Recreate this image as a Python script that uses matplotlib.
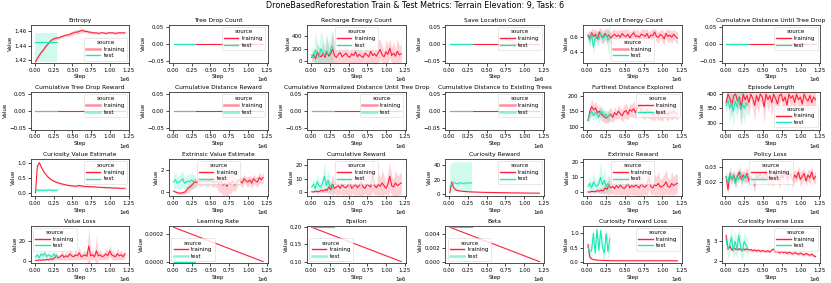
import numpy as np
import matplotlib
matplotlib.use('Agg')
import matplotlib.pyplot as plt

TITLE = 'DroneBasedReforestation Train & Test Metrics: Terrain Elevation: 9, Task: 6'
TRAIN_COLOR = '#ff1f3a'
TEST_COLOR = '#1de6b2'

# checkpoint steps
TRAIN_STEPS = np.linspace(0.01e6, 1.2e6, 48)
TEST_STEPS = np.linspace(0.01e6, 0.3e6, 13)
TRAIN_ENDS = [0.01e6, 1.2e6]
TEST_ENDS = [0.01e6, 0.3e6]
X_TICKS = [0, 0.25e6, 0.5e6, 0.75e6, 1.0e6, 1.25e6]

ZERO_TRAIN = [0.0, 0.0]
ZERO_TEST = [0.0, 0.0]

entropy_train = [1.418, 1.423, 1.427, 1.431, 1.434, 1.438, 1.441, 1.444, 1.447, 1.449,
                 1.450, 1.451, 1.451, 1.452, 1.453, 1.454, 1.455, 1.455, 1.456, 1.457,
                 1.458, 1.459, 1.459, 1.460, 1.461, 1.461, 1.460, 1.460, 1.459, 1.459,
                 1.458, 1.458, 1.458, 1.457, 1.458, 1.458, 1.458, 1.457, 1.458, 1.458,
                 1.458, 1.458, 1.457, 1.458, 1.458, 1.458, 1.458, 1.458]
entropy_train_band = [0.001, 0.002, 0.002, 0.002, 0.002, 0.002, 0.002, 0.002, 0.002, 0.002,
                      0.002, 0.002, 0.002, 0.002, 0.002, 0.002, 0.002, 0.002, 0.003, 0.003,
                      0.003, 0.003, 0.003, 0.003, 0.003, 0.003, 0.002, 0.002, 0.002, 0.002,
                      0.0015, 0.0015, 0.0015, 0.0015, 0.0012, 0.0012, 0.0012, 0.0012, 0.0012, 0.0012,
                      0.0012, 0.0012, 0.0012, 0.0012, 0.0012, 0.0012, 0.0012, 0.0012]
entropy_test = [1.445, 1.445]
entropy_test_band = (0.027, 0.013)

recharge_train = [60, 110, 40, 140, 90, 70, 130, 60, 150, 80, 120, 200, 90, 60, 110, 140,
                  70, 100, 130, 80, 60, 120, 90, 150, 70, 110, 80, 60, 130, 100, 70, 160,
                  90, 120, 80, 140, 190, 100, 70, 150, 110, 210, 90, 130, 80, 160, 100, 120]
recharge_train_band = [60, 100, 80, 150, 120, 90, 200, 80, 250, 120, 150, 300, 130, 100, 140, 200,
                       90, 150, 180, 100, 90, 170, 120, 200, 100, 160, 110, 80, 180, 150, 100, 220,
                       130, 160, 110, 200, 160, 150, 100, 200, 160, 150, 130, 180, 110, 200, 150, 150]
recharge_test = [100, 50, 180, 120, 60, 200, 150, 90, 170, 110, 130, 250, 180]
recharge_test_band = [150, 100, 300, 200, 150, 300, 250, 150, 300, 200, 200, 250, 200]

energy_out_train = [0.62, 0.58, 0.65, 0.60, 0.63, 0.57, 0.66, 0.61, 0.59, 0.64, 0.60, 0.62,
                    0.58, 0.61, 0.63, 0.60, 0.62, 0.59, 0.64, 0.61, 0.60, 0.63, 0.58, 0.62,
                    0.65, 0.60, 0.61, 0.59, 0.63, 0.62, 0.60, 0.64, 0.58, 0.62, 0.61, 0.66,
                    0.60, 0.59, 0.63, 0.61, 0.57, 0.64, 0.60, 0.62, 0.59, 0.63, 0.60, 0.58]
energy_out_train_band = [0.06, 0.08, 0.06, 0.09, 0.07, 0.08, 0.06, 0.09, 0.08, 0.07, 0.1, 0.06,
                         0.08, 0.09, 0.06, 0.08, 0.07, 0.09, 0.06, 0.08, 0.09, 0.07, 0.08, 0.06,
                         0.05, 0.08, 0.09, 0.07, 0.06, 0.08, 0.09, 0.06, 0.08, 0.07, 0.09, 0.05,
                         0.08, 0.07, 0.06, 0.09, 0.08, 0.06, 0.09, 0.07, 0.08, 0.06, 0.07, 0.08]
energy_out_test = [0.60, 0.55, 0.63, 0.46, 0.58, 0.62, 0.56, 0.64, 0.57, 0.60, 0.62, 0.55, 0.60]
energy_out_test_band = [0.06, 0.1, 0.05, 0.12, 0.08, 0.06, 0.1, 0.05, 0.08, 0.07, 0.06, 0.15, 0.3]

furthest_train = [120, 150, 165, 155, 160, 145, 150, 140, 135, 130, 128, 135, 140, 130, 145, 138,
                  150, 142, 135, 148, 152, 140, 155, 150, 158, 145, 160, 165, 150, 148, 140, 155,
                  145, 150, 138, 142, 150, 135, 145, 140, 150, 145, 138, 148, 142, 150, 145, 140]
furthest_train_band = [8, 20, 25, 18, 22, 20, 15, 22, 18, 20, 15, 20, 22, 18, 20, 15,
                       22, 18, 20, 22, 25, 18, 20, 22, 25, 20, 18, 25, 22, 20, 18, 22,
                       20, 25, 18, 20, 22, 18, 20, 25, 18, 20, 22, 18, 20, 22, 18, 20]
furthest_test = [120, 140, 150, 135, 145, 140, 130, 150, 145, 135, 140, 130, 140]
furthest_test_band = [10, 15, 18, 15, 20, 15, 18, 20, 15, 18, 15, 20, 15]

episode_train = [370, 400, 385, 360, 395, 400, 375, 390, 350, 400, 380, 395, 370, 400, 385, 360,
                 395, 375, 400, 390, 355, 400, 380, 395, 370, 400, 385, 365, 395, 400, 375, 390,
                 360, 400, 385, 395, 370, 400, 380, 390, 365, 400, 385, 375, 395, 370, 390, 380]
episode_train_band = [30, 20, 35, 40, 25, 20, 45, 30, 60, 25, 40, 30, 50, 20, 35, 55,
                      30, 45, 25, 30, 60, 20, 40, 30, 50, 25, 35, 70, 30, 20, 45, 30,
                      55, 20, 35, 30, 50, 20, 40, 35, 55, 25, 35, 45, 30, 50, 35, 40]
episode_test = [360, 380, 350, 370, 340, 375, 355, 385, 345, 365, 350, 370, 360]
episode_test_band = [30, 25, 50, 35, 55, 30, 45, 25, 60, 40, 50, 35, 40]

cur_value_train = [0.02, 0.90, 1.02, 0.88, 0.76, 0.66, 0.58, 0.52, 0.47, 0.43, 0.40, 0.37,
                   0.35, 0.33, 0.31, 0.30, 0.28, 0.27, 0.26, 0.25, 0.25, 0.24, 0.25, 0.26,
                   0.25, 0.24, 0.23, 0.23, 0.23, 0.22, 0.22, 0.22, 0.21, 0.21, 0.20, 0.20,
                   0.20, 0.19, 0.19, 0.19, 0.18, 0.18, 0.18, 0.18, 0.17, 0.17, 0.17, 0.17]
cur_value_train_band = [0.01, 0.05, 0.04, 0.03, 0.03, 0.03, 0.03, 0.03, 0.03, 0.03, 0.03, 0.03,
                        0.03, 0.03, 0.03, 0.03, 0.03, 0.03, 0.03, 0.03, 0.03, 0.04, 0.04, 0.04,
                        0.04, 0.03, 0.03, 0.03, 0.03, 0.03, 0.02, 0.02, 0.02, 0.02, 0.02, 0.02,
                        0.02, 0.02, 0.02, 0.02, 0.02, 0.02, 0.02, 0.02, 0.02, 0.02, 0.02, 0.02]
cur_value_test = [0.10, 0.11, 0.10, 0.12, 0.10, 0.11, 0.10, 0.12, 0.11, 0.10, 0.11, 0.10, 0.11]
cur_value_test_band = 0.05

ext_value_train = [0.1, 0.0, -0.05, -0.1, -0.1, -0.05, 0.0, 0.2, 0.4, 0.5, 0.7, 0.9, 0.85, 1.0,
                   0.9, 1.05, 0.95, 1.0, 0.9, 1.1, 0.95, 0.85, 1.0, 0.9, 0.7, 1.0, 0.6, 0.8,
                   0.5, 0.9, 0.7, 1.0, 0.6, 0.8, 1.1, 1.0, 0.8, 1.2, 1.0, 0.9, 1.1, 0.8, 1.2,
                   1.0, 0.9, 1.3, 1.1, 1.3]
ext_value_train_band = [0.1, 0.1, 0.1, 0.1, 0.1, 0.15, 0.2, 0.3, 0.4, 0.3, 0.4, 0.4, 0.4, 0.4,
                        0.4, 0.4, 0.4, 0.4, 0.5, 0.4, 0.5, 0.4, 0.5, 0.6, 0.8, 1.0, 1.2, 1.0,
                        1.2, 1.0, 0.9, 0.8, 0.6, 0.5, 0.4, 0.4, 0.5, 0.4, 0.4, 0.5, 0.4, 0.5,
                        0.4, 0.4, 0.5, 0.5, 0.4, 0.5]
ext_value_test = [0.9, 1.1, 0.8, 0.9, 1.0, 1.2, 0.8, 0.9, 1.0, 0.9, 1.1, 0.9, 1.0]
ext_value_test_band = [0.6, 0.8, 0.5, 0.6, 0.7, 0.8, 0.5, 0.6, 0.7, 0.6, 0.8, 0.6, 0.6]

cum_reward_train = [0.5, 0.3, 1.0, 0.5, 0.8, 1.5, 1.0, 2.0, 1.5, 4.0, 2.0, 6.0, 3.0, 4.0, 5.0,
                    3.0, 6.0, 4.0, 3.5, 5.0, 7.0, 3.0, 4.5, 6.0, 3.5, 5.0, 8.0, 4.0, 3.0, 6.0,
                    5.0, 4.0, 13.0, 5.0, 3.5, 6.0, 4.5, 7.0, 5.0, 3.0, 6.0, 12.0, 5.0, 4.0,
                    7.0, 5.0, 6.0, 7.0]
cum_reward_train_band = [0.5, 0.5, 1.0, 1.0, 1.0, 1.5, 1.5, 2.0, 2.0, 5.0, 3.0, 8.0, 4.0, 6.0,
                         7.0, 4.0, 8.0, 6.0, 5.0, 7.0, 10.0, 4.0, 6.0, 9.0, 5.0, 8.0, 12.0, 6.0,
                         4.0, 9.0, 7.0, 6.0, 12.0, 7.0, 5.0, 9.0, 6.0, 10.0, 7.0, 4.0, 9.0, 10.0,
                         7.0, 6.0, 10.0, 7.0, 8.0, 8.0]
cum_reward_test = [4, 6, 3, 8, 5, 4, 7, 12, 5, 9, 4, 6, 3]
cum_reward_test_band = [3, 5, 3, 6, 4, 4, 6, 11, 5, 8, 4, 5, 3]

cur_reward_train = [2, 17, 9, 6, 5, 4.5, 4, 3.7, 3.5, 3.3, 3.1, 3.0, 2.9, 2.8, 2.7, 2.6, 2.5,
                    2.4, 2.3, 2.3, 2.2, 2.2, 2.1, 2.1, 2.0, 2.0, 1.9, 1.9, 1.8, 1.8, 1.8, 1.7,
                    1.7, 1.6, 1.6, 1.6, 1.5, 1.5, 1.5, 1.4, 1.4, 1.4, 1.3, 1.3, 1.3, 1.2, 1.2, 1.2]
cur_reward_train_band = [1.5, 3.0, 1.5, 1.0, 0.8, 0.6, 0.5, 0.5, 0.5, 0.5, 0.4, 0.4, 0.4, 0.4,
                         0.4, 0.4, 0.4, 0.4, 0.4, 0.4, 0.4, 0.4, 0.4, 0.4, 0.4, 0.4, 0.4, 0.4,
                         0.4, 0.4, 0.4, 0.4, 0.4, 0.4, 0.4, 0.4, 0.4, 0.4, 0.4, 0.4, 0.4, 0.4,
                         0.4, 0.4, 0.4, 0.4, 0.4, 0.4]
cur_reward_test = [10, 14, 15, 16, 14, 15, 16, 15, 14, 16, 15, 16, 15]
cur_reward_test_band = (11, 30)

ext_reward_train = [0.3, 0.2, 0.8, 0.5, 0.6, 1.2, 0.8, 1.5, 1.0, 3.0, 2.0, 5.0, 3.0, 4.0, 2.5,
                    4.5, 3.0, 5.0, 3.5, 2.5, 4.0, 6.0, 3.0, 4.5, 3.5, 5.0, 4.0, 3.0, 6.0, 4.0,
                    3.5, 5.0, 10.0, 4.0, 3.0, 5.0, 4.5, 6.0, 3.5, 4.0, 5.0, 7.0, 4.0, 3.5, 6.0,
                    4.5, 5.5, 6.0]
ext_reward_train_band = [0.5, 0.5, 1.0, 1.0, 1.0, 1.5, 1.5, 2.0, 2.0, 4.0, 3.0, 7.0, 4.0, 5.0,
                         4.0, 6.0, 4.0, 7.0, 5.0, 4.0, 6.0, 9.0, 4.0, 6.0, 5.0, 7.0, 10.0, 5.0,
                         8.0, 6.0, 5.0, 7.0, 8.0, 6.0, 4.0, 7.0, 6.0, 8.0, 5.0, 6.0, 7.0, 8.0,
                         6.0, 5.0, 8.0, 6.0, 7.0, 6.0]
ext_reward_test = [4, 6, 3, 7, 5, 4, 6, 10, 5, 8, 4, 6, 3]
ext_reward_test_band = [3, 5, 3, 6, 4, 4, 6, 11, 5, 8, 4, 5, 3]

policy_train = [0.024, 0.015, 0.026, 0.022, 0.025, 0.021, 0.024, 0.027, 0.022, 0.025, 0.023,
                0.026, 0.021, 0.024, 0.022, 0.018, 0.025, 0.023, 0.026, 0.022, 0.024, 0.027,
                0.021, 0.025, 0.023, 0.022, 0.026, 0.024, 0.021, 0.025, 0.023, 0.028, 0.022,
                0.024, 0.026, 0.021, 0.025, 0.023, 0.027, 0.022, 0.024, 0.026, 0.021, 0.025,
                0.023, 0.027, 0.022, 0.024]
policy_train_band = [0.004, 0.003, 0.005, 0.004, 0.003, 0.005, 0.004, 0.004, 0.005, 0.003,
                     0.004, 0.005, 0.004, 0.003, 0.004, 0.005, 0.004, 0.003, 0.005, 0.004,
                     0.004, 0.005, 0.003, 0.004, 0.005, 0.004, 0.004, 0.003, 0.005, 0.004,
                     0.004, 0.004, 0.005, 0.003, 0.004, 0.005, 0.004, 0.003, 0.004, 0.005,
                     0.004, 0.004, 0.003, 0.004, 0.005, 0.004, 0.003, 0.004]
policy_test = [0.024, 0.020, 0.026, 0.022, 0.025, 0.019, 0.024, 0.022, 0.026, 0.021, 0.024,
               0.023, 0.025]
policy_test_band = 0.003

value_loss_train = [0.5, 0.3, 0.8, 0.5, 1.0, 0.8, 1.5, 1.0, 2.0, 1.5, 3.0, 5.0, 3.0, 4.0, 6.0,
                    3.5, 5.0, 4.0, 7.0, 5.0, 4.0, 6.0, 5.0, 8.0, 4.0, 5.0, 6.0, 4.5, 15.0, 5.0,
                    6.0, 4.0, 10.0, 5.0, 6.0, 4.0, 5.0, 7.0, 5.0, 10.0, 6.0, 5.0, 4.0, 7.0, 5.0,
                    6.0, 4.0, 7.0]
value_loss_train_band = [0.5, 0.5, 0.8, 0.5, 1.0, 1.0, 1.5, 1.0, 2.0, 1.5, 2.5, 4.0, 2.5, 3.0,
                         5.0, 3.0, 4.0, 3.0, 6.0, 4.0, 3.0, 5.0, 4.0, 7.0, 3.0, 4.0, 5.0, 4.0,
                         20.0, 4.0, 5.0, 3.0, 15.0, 4.0, 5.0, 3.0, 4.0, 6.0, 4.0, 6.0, 5.0, 4.0,
                         3.0, 6.0, 4.0, 5.0, 3.0, 5.0]
value_loss_test = [4, 6, 3, 7, 5, 8, 4, 6, 5, 4, 7, 5, 4]
value_loss_test_band = [2, 3, 2, 3, 3, 3, 2, 3, 3, 2, 3, 3, 2]

lr_train = [0.00025, 0.0]
lr_test = [0.0, 0.0]
epsilon_train = [0.2, 0.1]
epsilon_test = [0.2, 0.2]
beta_train = [0.005, 0.0]
beta_test = [0.005, 0.005]

fwd_loss_train = [0.6, 0.15, 0.1, 0.07, 0.06, 0.05, 0.05, 0.045, 0.04, 0.04, 0.04, 0.035,
                  0.035, 0.035, 0.03, 0.03, 0.03, 0.03, 0.03, 0.03, 0.03, 0.03, 0.03, 0.03,
                  0.03, 0.03, 0.03, 0.03, 0.03, 0.03, 0.03, 0.03, 0.03, 0.03, 0.03, 0.03,
                  0.03, 0.03, 0.03, 0.03, 0.03, 0.03, 0.03, 0.03, 0.03, 0.03, 0.03, 0.03]
fwd_loss_train_band = [0.1, 0.05, 0.02, 0.01, 0.01, 0.01, 0.01, 0.01, 0.01, 0.01, 0.01, 0.01,
                       0.01, 0.01, 0.01, 0.01, 0.01, 0.01, 0.01, 0.01, 0.01, 0.01, 0.01, 0.01,
                       0.01, 0.01, 0.01, 0.01, 0.01, 0.01, 0.01, 0.01, 0.01, 0.01, 0.01, 0.01,
                       0.01, 0.01, 0.01, 0.01, 0.01, 0.01, 0.01, 0.01, 0.01, 0.01, 0.01, 0.01]
fwd_loss_test = [0.5, 0.35, 0.4, 1.0, 0.3, 1.15, 0.4, 1.1, 0.5, 0.3, 1.0, 0.35, 0.8]
fwd_loss_test_band = [0.3, 0.25, 0.3, 0.2, 0.2, 0.1, 0.3, 0.1, 0.4, 0.2, 0.2, 0.3, 0.4]

inv_loss_train = [3.3, 2.6, 2.75, 2.55, 2.65, 2.6, 2.58, 2.62, 2.55, 2.6, 2.57, 2.62, 2.55, 2.58,
                  2.52, 2.56, 2.5, 2.55, 2.48, 2.53, 2.5, 2.47, 2.52, 2.45, 2.55, 2.6, 2.45, 2.5,
                  2.4, 2.48, 2.42, 2.46, 2.38, 2.44, 2.4, 2.35, 2.42, 2.38, 2.33, 2.4, 2.35, 2.3,
                  2.38, 2.32, 2.28, 2.35, 2.25, 2.22]
inv_loss_train_band = 0.08
inv_loss_test = [3.1, 2.6, 2.8, 3.2, 2.5, 3.0, 2.6, 3.3, 2.7, 2.5, 3.0, 2.8, 2.6]
inv_loss_test_band = [0.4, 0.5, 0.5, 0.5, 0.4, 0.6, 0.5, 0.4, 0.5, 0.5, 0.5, 0.4, 0.5]

# title, train steps, train, train band, test steps, test, test band
METRICS = [
    ('Entropy', TRAIN_STEPS, entropy_train, entropy_train_band, TEST_ENDS, entropy_test, entropy_test_band),
    ('Tree Drop Count', TRAIN_ENDS, ZERO_TRAIN, 0, TEST_ENDS, ZERO_TEST, 0),
    ('Recharge Energy Count', TRAIN_STEPS, recharge_train, recharge_train_band, TEST_STEPS, recharge_test, recharge_test_band),
    ('Save Location Count', TRAIN_ENDS, ZERO_TRAIN, 0, TEST_ENDS, ZERO_TEST, 0),
    ('Out of Energy Count', TRAIN_STEPS, energy_out_train, energy_out_train_band, TEST_STEPS, energy_out_test, energy_out_test_band),
    ('Cumulative Distance Until Tree Drop', TRAIN_ENDS, ZERO_TRAIN, 0, TEST_ENDS, ZERO_TEST, 0),
    ('Cumulative Tree Drop Reward', TRAIN_ENDS, ZERO_TRAIN, 0, TEST_ENDS, ZERO_TEST, 0),
    ('Cumulative Distance Reward', TRAIN_ENDS, ZERO_TRAIN, 0, TEST_ENDS, ZERO_TEST, 0),
    ('Cumulative Normalized Distance Until Tree Drop', TRAIN_ENDS, ZERO_TRAIN, 0, TEST_ENDS, ZERO_TEST, 0),
    ('Cumulative Distance to Existing Trees', TRAIN_ENDS, ZERO_TRAIN, 0, TEST_ENDS, ZERO_TEST, 0),
    ('Furthest Distance Explored', TRAIN_STEPS, furthest_train, furthest_train_band, TEST_STEPS, furthest_test, furthest_test_band),
    ('Episode Length', TRAIN_STEPS, episode_train, episode_train_band, TEST_STEPS, episode_test, episode_test_band),
    ('Curiosity Value Estimate', TRAIN_STEPS, cur_value_train, cur_value_train_band, TEST_STEPS, cur_value_test, cur_value_test_band),
    ('Extrinsic Value Estimate', TRAIN_STEPS, ext_value_train, ext_value_train_band, TEST_STEPS, ext_value_test, ext_value_test_band),
    ('Cumulative Reward', TRAIN_STEPS, cum_reward_train, cum_reward_train_band, TEST_STEPS, cum_reward_test, cum_reward_test_band),
    ('Curiosity Reward', TRAIN_STEPS, cur_reward_train, cur_reward_train_band, TEST_STEPS, cur_reward_test, cur_reward_test_band),
    ('Extrinsic Reward', TRAIN_STEPS, ext_reward_train, ext_reward_train_band, TEST_STEPS, ext_reward_test, ext_reward_test_band),
    ('Policy Loss', TRAIN_STEPS, policy_train, policy_train_band, TEST_STEPS, policy_test, policy_test_band),
    ('Value Loss', TRAIN_STEPS, value_loss_train, value_loss_train_band, TEST_STEPS, value_loss_test, value_loss_test_band),
    ('Learning Rate', TRAIN_ENDS, lr_train, 0, TEST_ENDS, lr_test, 0),
    ('Epsilon', TRAIN_ENDS, epsilon_train, 0, TEST_ENDS, epsilon_test, 0),
    ('Beta', TRAIN_ENDS, beta_train, 0, TEST_ENDS, beta_test, 0),
    ('Curiosity Forward Loss', TRAIN_STEPS, fwd_loss_train, fwd_loss_train_band, TEST_STEPS, fwd_loss_test, fwd_loss_test_band),
    ('Curiosity Inverse Loss', TRAIN_STEPS, inv_loss_train, inv_loss_train_band, TEST_STEPS, inv_loss_test, inv_loss_test_band),
]

LEGEND_LOC = ['lower right', 'upper right', 'upper center', 'upper right', 'lower center', 'upper right',
              'upper right', 'upper right', 'upper right', 'upper right', 'upper right', 'lower right',
              'upper right', 'upper center', 'upper center', 'upper right', 'upper center', 'upper center',
              'upper left', 'lower left', 'lower left', 'lower left', 'upper right', 'upper right']

# legend handles that are drawn faded (training, test)
LEGEND_FADED = {
    'Entropy': (True, False),
    'Out of Energy Count': (True, False),
    'Cumulative Tree Drop Reward': (True, True),
    'Cumulative Distance Reward': (True, True),
    'Cumulative Normalized Distance Until Tree Drop': (True, True),
    'Cumulative Distance to Existing Trees': (True, True),
    'Learning Rate': (False, True),
    'Epsilon': (False, True),
    'Beta': (False, True),
}

ZERO_TICKS = [-0.05, 0.0, 0.05]
Y_TICKS = {
    'Entropy': [1.42, 1.44, 1.46],
    'Recharge Energy Count': [0, 200, 400],
    'Out of Energy Count': [0.4, 0.6],
    'Furthest Distance Explored': [100, 150, 200],
    'Episode Length': [300, 350, 400],
    'Curiosity Value Estimate': [0.0, 0.5, 1.0],
    'Extrinsic Value Estimate': [0, 2],
    'Cumulative Reward': [0, 10, 20],
    'Curiosity Reward': [0, 20, 40],
    'Extrinsic Reward': [0, 10, 20],
    'Policy Loss': [0.02, 0.03],
    'Value Loss': [0, 20],
    'Learning Rate': [0.0, 0.0002],
    'Epsilon': [0.10, 0.15, 0.20],
    'Beta': [0.0, 0.002, 0.004],
    'Curiosity Forward Loss': [0.0, 0.5, 1.0],
    'Curiosity Inverse Loss': [2, 3],
}

YLIMS = {
    'Entropy': (1.4168, 1.4688),
    'Recharge Energy Count': (-26, 585),
    'Out of Energy Count': (0.26, 0.75),
    'Furthest Distance Explored': (90, 213),
    'Episode Length': (275, 408),
    'Curiosity Value Estimate': (-0.1, 1.15),
    'Extrinsic Value Estimate': (-0.4, 3.0),
    'Cumulative Reward': (-3, 25),
    'Curiosity Reward': (-3.4, 49.4),
    'Extrinsic Reward': (-2.7, 22.5),
    'Policy Loss': (0.0107, 0.0358),
    'Value Loss': (-2.6, 35.7),
    'Curiosity Forward Loss': (-0.06, 1.28),
    'Curiosity Inverse Loss': (1.87, 3.81),
}

FS = 4.0


def band_edges(vals, spread):
    vals = np.asarray(vals, dtype=float)
    if isinstance(spread, tuple):
        return vals - spread[0], vals + spread[1]
    s = np.broadcast_to(np.asarray(spread, dtype=float), vals.shape)
    return vals - s, vals + s


def main():
    fig, axes = plt.subplots(4, 6, figsize=(8.31, 2.83), dpi=100)
    fig.subplots_adjust(left=0.0373, right=0.9868, top=0.9117, bottom=0.0696,
                        wspace=0.403, hspace=0.77)
    fig.suptitle(TITLE, fontsize=5.8, y=0.995)

    for i, (title, tr_x, tr_y, tr_b, te_x, te_y, te_b) in enumerate(METRICS):
        ax = axes.flat[i]
        lo, hi = band_edges(tr_y, tr_b)
        if np.any(hi > lo):
            ax.fill_between(tr_x, lo, hi, color=TRAIN_COLOR, alpha=0.2, linewidth=0)
        ax.plot(tr_x, tr_y, color=TRAIN_COLOR, lw=0.8, label='training')
        lo, hi = band_edges(te_y, te_b)
        if np.any(hi > lo):
            ax.fill_between(te_x, lo, hi, color=TEST_COLOR, alpha=0.2, linewidth=0)
        ax.plot(te_x, te_y, color=TEST_COLOR, lw=0.8, label='test')

        ax.set_xlim(-0.0495e6, 1.2595e6)
        ax.set_xticks(X_TICKS)
        ax.set_yticks(Y_TICKS.get(title, ZERO_TICKS))
        if title in YLIMS:
            ax.set_ylim(*YLIMS[title])
        ax.set_title(title, fontsize=4.3, pad=2)
        ax.set_xlabel('Step', fontsize=FS, labelpad=1)
        ax.set_ylabel('Value', fontsize=FS, labelpad=1)
        ax.tick_params(labelsize=FS, length=2, width=0.5, pad=1.5)
        ax.xaxis.get_offset_text().set_fontsize(FS)
        ax.yaxis.get_offset_text().set_fontsize(FS)
        for sp in ax.spines.values():
            sp.set_linewidth(0.6)
            sp.set_color('#333333')

        leg = ax.legend(loc=LEGEND_LOC[i], title='source', fontsize=FS, title_fontsize=FS,
                        handlelength=2.6, borderpad=0.4, labelspacing=0.3,
                        handletextpad=0.6, borderaxespad=0.4, framealpha=0.8)
        faded = LEGEND_FADED.get(title, (False, False))
        for h, f in zip(leg.get_lines(), faded):
            if f:
                h.set_alpha(0.5)
                h.set_linewidth(1.8)
            else:
                h.set_linewidth(1.0)
        leg.get_frame().set_linewidth(0.4)

    fig.savefig('out.png', dpi=100)


if __name__ == '__main__':
    main()
